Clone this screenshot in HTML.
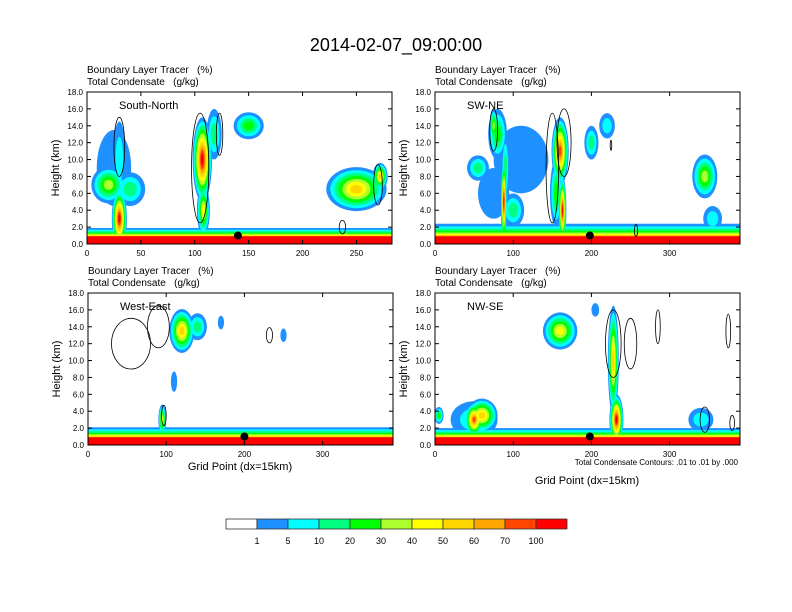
<!DOCTYPE html>
<html><head><meta charset="utf-8"><style>
body{margin:0;background:#fff}
svg{display:block;font-family:"Liberation Sans",Arial,sans-serif}
text{white-space:pre}
</style></head><body>
<svg id="c" width="792" height="612" viewBox="0 0 792 612"></svg>
<script>
// colour levels
const levelColors=["#ffffff","#1e90ff","#00ffff","#00ff7f","#00ff00","#adff2f","#ffff00","#ffd700","#ffa500","#ff4500","#ff0000"];
const levelLabels=["1","5","10","20","30","40","50","60","70","100"];
const yTicks=[0,2,4,6,8,10,12,14,16,18];
// panel metadata
const panelNames=["South-North","SW-NE","West-East","NW-SE"];
const panelXMax=[283,390,390,390];
const panelXTicks=[[0,50,100,150,200,250],[0,100,200,300],[0,100,200,300],[0,100,200,300]];
// surface layer depth (km) per panel
const surfaceDepth=[1.9,2.4,2.1,2.0];
// blobs: [x, z, xRadius, zRadius, maxLevel]
const blobs1=[[25,9,16,4.5,1],[20,7,16,2.2,5],[30,10,6,4.5,2],[40,6.5,14,2,3],[30,3,7,3.5,10],[118,13,7,3,3],[107,10,9,5,10],[108,4,6,3,6],[150,14,14,1.6,4],[250,6.5,28,2.6,7],[272,8,7,1.6,7]];
const blobs2=[[110,10,35,4,1],[75,6,20,3,1],[80,13,12,3,4],[75,14,5,2,5],[100,4,14,2,3],[55,9,14,1.5,3],[90,9,5,4,3],[88,5,4,5,10],[200,12,9,2,3],[220,14,10,1.5,2],[155,6,8,4,4],[160,11,11,4,9],[163,4,5,4,10],[345,8,16,2.6,5],[355,3,12,1.5,2]];
const blobs3=[[140,14,12,1.6,3],[120,13.5,16,2.6,7],[95,3,5,1.8,6],[110,7.5,4,1.2,1],[170,14.5,4,0.8,1],[250,13,4,0.8,1]];
const blobs4=[[50,3,30,2.2,2],[160,13.5,22,2.2,6],[228,10,7,6.5,7],[232,3,9,3,10],[60,3.5,20,2,7],[50,3,12,2,9],[5,3.5,6,1,4],[340,3,16,1.4,2],[205,16,5,0.8,1]];
const allBlobs=[blobs1,blobs2,blobs3,blobs4];
// contour rings (black outlines): [x, z, xRadius, zRadius]
const rings1=[[30,11.5,5,3.5],[105,9,8,6.5],[123,13,3,2.5],[270,7,4,2.4],[237,2,3,0.8]];
const rings2=[[75,13.5,5,2.5],[150,9,8,6.5],[165,12,9,4],[225,11.7,1,0.6],[257,1.6,2,0.7]];
const rings3=[[55,12,25,3],[90,14,14,2.5],[232,13,4,0.9],[97,3.5,3,1.2]];
const rings4=[[228,12,10,4],[250,12,8,3],[285,14,3,2],[375,13.5,3,2],[345,3,6,1.5],[380,2.6,3,0.9]];
const allRings=[rings1,rings2,rings3,rings4];
const panelBoxes=[[87,92],[435,92],[88,293],[435,293]];
const PW=305,PH=152;
const NS="http://www.w3.org/2000/svg";
const svg=document.getElementById('c');
function mk(tag,attrs,parent){const e=document.createElementNS(NS,tag);for(const k in attrs)e.setAttribute(k,attrs[k]);(parent||svg).appendChild(e);return e;}
function txt(x,y,s,size,anchor,parent,name){const t=mk('text',{x:x,y:y,'font-size':size,'text-anchor':anchor||'start',fill:'#000'},parent);t.textContent=s;


return t;}
txt(396,51,"2014-02-07_09:00:00",18,'middle',svg,'main-title');
for(let p=0;p<4;p++){
  const [X0,Y0]=panelBoxes[p];
  const g=mk('g',{});
  
  
  const sx=v=>X0+v/panelXMax[p]*PW;
  const sy=v=>Y0+PH-v/18*PH;
  txt(X0,Y0-19,"Boundary Layer Tracer   (%)",10,'start',g,'subtitle-tracer');
  txt(X0,Y0-7,"Total Condensate   (g/kg)",10,'start',g,'subtitle-condensate');
  const cid='clip'+p;
  const cp=mk('clipPath',{id:cid},g);mk('rect',{x:X0,y:Y0,width:PW,height:PH},cp);
  const d=mk('g',{'clip-path':'url(#'+cid+')'},g);
  const sd=surfaceDepth[p];
  for(let k=1;k<=10;k++){
    allBlobs[p].forEach(b=>{
      if(k>b[4])return;
      const f=1-(k-1)/(b[4]+0.5);
      const e=mk('ellipse',{cx:sx(b[0]),cy:sy(b[1]),rx:sx(b[2]*f)-X0,ry:(sy(0)-sy(b[3]*f)),fill:levelColors[k]},d);
      
      
    });
    const t=1-(k-1)/9;
    const h=0.9+(sd-0.9)*t*t;
    const r=mk('rect',{x:X0,y:sy(h),width:PW,height:sy(0)-sy(h),fill:levelColors[k]},d);
    
    
  }
  allRings[p].forEach(r=>{
    const e=mk('ellipse',{cx:sx(r[0]),cy:sy(r[1]),rx:sx(r[2])-X0,ry:sy(0)-sy(r[3]),fill:'none',stroke:'#000','stroke-width':0.8},d);
    
    
  });
  const dot=mk('circle',{cx:sx([140,198,200,198][p]),cy:sy(1),r:4,fill:'#000'},g);
  
  
  const fr=mk('rect',{x:X0,y:Y0,width:PW,height:PH,fill:'none',stroke:'#000','stroke-width':1},g);
  
  
  yTicks.forEach(v=>{
    mk('line',{x1:X0,x2:X0+4,y1:sy(v),y2:sy(v),stroke:'#000'},g);
    mk('line',{x1:X0+PW,x2:X0+PW-4,y1:sy(v),y2:sy(v),stroke:'#000'},g);
    txt(X0-4,sy(v)+3,v.toFixed(1),8,'end',g,'y-tick-label');
  });
  panelXTicks[p].forEach(v=>{
    mk('line',{x1:sx(v),x2:sx(v),y1:Y0+PH,y2:Y0+PH-4,stroke:'#000'},g);
    mk('line',{x1:sx(v),x2:sx(v),y1:Y0,y2:Y0+4,stroke:'#000'},g);
    txt(sx(v),Y0+PH+12,String(v),8,'middle',g,'x-tick-label');
  });
  const yt=txt(0,0,"Height (km)",11,'middle',g,'y-axis-title');
  yt.setAttribute('transform','translate('+(X0-28)+','+(Y0+PH/2)+') rotate(-90)');
  txt(X0+32,Y0+17,panelNames[p],11,'start',g,'panel-label');
}
txt(240,470,"Grid Point (dx=15km)",11,'middle',svg,'x-axis-title-left');
txt(587,484,"Grid Point (dx=15km)",11,'middle',svg,'x-axis-title-right');
txt(738,465,"Total Condensate Contours: .01 to .01 by .000",8,'end',svg,'contour-info');
// colorbar
const cbX=226,cbY=519,cbW=31,cbH=10;
levelColors.forEach((c,i)=>{
  const r=mk('rect',{x:cbX+i*cbW,y:cbY,width:cbW,height:cbH,fill:c,stroke:'#333','stroke-width':0.8});
  
  
});
levelLabels.forEach((l,i)=>txt(cbX+(i+1)*cbW,cbY+25,l,9,'middle',svg,'colorbar-label'));
</script>
</body></html>
